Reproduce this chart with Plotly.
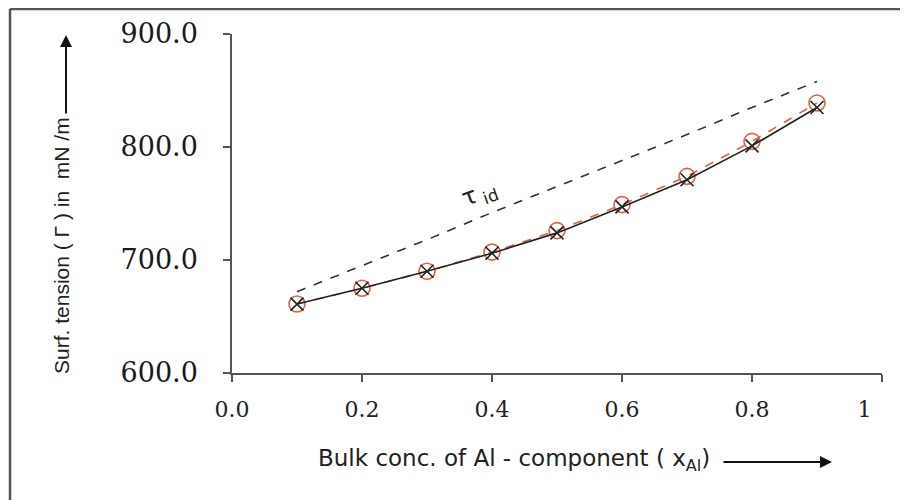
import plotly.graph_objects as go

x_conc = [0.1, 0.2, 0.3, 0.4, 0.5, 0.6, 0.7, 0.8, 0.9]
gamma_calc = [661, 675, 690, 706, 724, 747, 771, 801, 835]      # black solid, x markers
gamma_exp = [661, 675, 690, 707, 726, 749, 774, 805, 839]       # orange dashed, circles
gamma_ideal = [672, 695, 718, 742, 765, 788, 811, 835, 858]     # grey dashed, ideal

x_tickvals = [0, 0.2, 0.4, 0.6, 0.8, 1]
x_ticktext = ["0.0", "0.2", "0.4", "0.6", "0.8", "1&nbsp;&nbsp;&nbsp;&nbsp;&nbsp;"]
y_tickvals = [600, 700, 800, 900]
y_ticktext = ["600.0", "700.0", "800.0", "900.0"]

ORANGE = "#cd6a48"
AXIS = "#555555"
SANS = "Liberation Sans, Arial, sans-serif"
SANS_W = "DejaVu Sans, sans-serif"
SERIF = "DejaVu Serif, serif"

# page offset (body margin) = 8 px; plot area in page px: x 232..882, y 34..373
def px_x(px):
    return (px - 232) / 650

def px_y(py):
    return (373 - py) / 339

fig = go.Figure()
fig.add_trace(go.Scatter(
    x=x_conc, y=gamma_ideal, mode="lines",
    line=dict(color="#333333", width=1.6, dash="dash"), showlegend=False))
fig.add_trace(go.Scatter(
    x=x_conc, y=gamma_exp, mode="lines+markers",
    line=dict(color=ORANGE, width=1.6, dash="dash"),
    marker=dict(symbol="circle-open", size=16, color=ORANGE, line=dict(width=1.6)),
    showlegend=False))
fig.add_trace(go.Scatter(
    x=x_conc, y=gamma_calc, mode="lines+markers",
    line=dict(color="#222222", width=1.6),
    marker=dict(symbol="x-thin-open", size=13, color="#222222", line=dict(width=1.6)),
    showlegend=False))

fig.update_xaxes(
    range=[0, 1], tickvals=x_tickvals, ticktext=x_ticktext, automargin=False,
    showline=True, linecolor=AXIS, linewidth=1.5, ticks="outside", ticklen=7,
    tickcolor=AXIS, tickwidth=1.5, showgrid=False, zeroline=False,
    tickfont=dict(family=SERIF, size=22, color="#222222"), ticklabelstandoff=9)
fig.update_yaxes(
    range=[600, 900], tickvals=y_tickvals, ticktext=y_ticktext, automargin=False,
    showline=True, linecolor=AXIS, linewidth=1.5, ticks="outside", ticklen=7,
    tickcolor=AXIS, tickwidth=1.5, showgrid=False, zeroline=False,
    tickfont=dict(family=SERIF, size=27, color="#1a1a1a"),
    ticklabelstandoff=20)

annotations = [
    dict(text="Surf. tension ( Γ ) in  mN /m", xref="paper", yref="paper",
         x=px_x(62), y=px_y(246), xanchor="center", yanchor="middle",
         textangle=-90, showarrow=False,
         font=dict(family=SANS, size=21, color="#222222")),
    dict(text="", xref="paper", yref="paper", x=px_x(66), y=px_y(35),
         axref="pixel", ayref="pixel", ax=0, ay=80, showarrow=True,
         arrowhead=2, arrowsize=1.2, arrowwidth=2, arrowcolor="#111111"),
    dict(text="Bulk conc. of Al - component ( x<sub>Al</sub>)", xref="paper", yref="paper",
         x=px_x(514), y=px_y(460), xanchor="center", yanchor="middle", showarrow=False,
         font=dict(family=SANS_W, size=23, color="#222222")),
    dict(text="", xref="paper", yref="paper", x=px_x(832), y=px_y(462),
         axref="pixel", ayref="pixel", ax=-110, ay=0, showarrow=True,
         arrowhead=2, arrowsize=1.2, arrowwidth=2, arrowcolor="#111111"),
    dict(text="τ<sub> id</sub>", xref="x", yref="y", x=0.38, y=758,
         textangle=-20, showarrow=False,
         font=dict(family=SANS_W, size=24, color="#222222")),
]

shapes = [
    dict(type="line", xref="paper", yref="paper", x0=px_x(10), x1=px_x(910),
         y0=px_y(9), y1=px_y(9), line=dict(color="#555555", width=2.5)),
    dict(type="line", xref="paper", yref="paper", x0=px_x(10), x1=px_x(10),
         y0=px_y(9), y1=px_y(505), line=dict(color="#555555", width=2.5)),
]

fig.update_layout(
    width=900, height=492,
    margin=dict(l=224, r=26, t=26, b=127, autoexpand=False),
    plot_bgcolor="white", paper_bgcolor="white",
    annotations=annotations, shapes=shapes,
)

fig.write_html("out.html")
